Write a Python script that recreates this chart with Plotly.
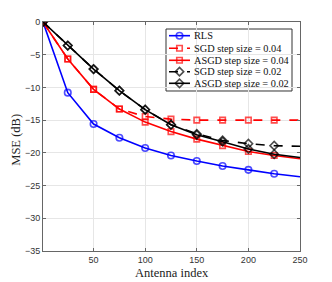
import plotly.graph_objects as go

antenna = [1, 25, 50, 75, 100, 125, 150, 175, 200, 225, 250]
rls = [0, -10.8, -15.6, -17.7, -19.25, -20.4, -21.25, -22.0, -22.6, -23.2, -23.65]
sgd_004 = [0, -5.65, -10.3, -13.3, -14.45, -14.85, -15.0, -15.0, -15.0, -15.0, -15.0]
asgd_004 = [0, -5.65, -10.3, -13.3, -15.3, -16.75, -17.9, -18.9, -19.8, -20.4, -20.9]
sgd_002 = [0, -3.6, -7.2, -10.5, -13.4, -15.7, -17.1, -18.1, -18.6, -18.9, -19.0]
asgd_002 = [0, -3.6, -7.2, -10.5, -13.4, -15.7, -17.25, -18.3, -19.4, -20.2, -20.7]

names = ["RLS", "SGD step size = 0.04", "ASGD step size = 0.04",
         "SGD step size = 0.02", "ASGD step size = 0.02"]

xticks = [50, 100, 150, 200, 250]
yticks = [0, -5, -10, -15, -20, -25, -30, -35]

msize = lambda s: [s] * (len(antenna) - 1) + [0]

fig = go.Figure()
series = [
    (rls, names[0], "#0000ff", "solid", "circle-open", 6.5),
    (sgd_004, names[1], "#ff0000", "dash", "square-open", 5.5),
    (asgd_004, names[2], "#ff0000", "solid", "square-open", 5.5),
    (sgd_002, names[3], "#000000", "dash", "diamond-open", 6.5),
    (asgd_002, names[4], "#000000", "solid", "diamond-open", 6.5),
]
for y, name, col, dash, sym, sz in series:
    fig.add_trace(go.Scatter(
        x=antenna, y=y, name=name, mode="lines+markers", showlegend=False,
        line=dict(color=col, width=1.6, dash=dash),
        marker=dict(symbol=sym, size=msize(sz), color=col,
                    line=dict(color=col, width=1.6)),
    ))

# custom compact legend (MATLAB style) drawn on an overlay unit axis
lx0, lx1, ly0, ly1 = 0.4786, 0.9689, 0.6987, 0.9694
entry_y = [0.9402, 0.8852, 0.8328, 0.7830, 0.7323]
fig.add_shape(type="rect", xref="paper", yref="paper", x0=lx0, x1=lx1, y0=ly0, y1=ly1,
              line=dict(color="#333333", width=1), fillcolor="white", layer="between")
for (y, name, col, dash, sym, sz), ey in zip(series, entry_y):
    fig.add_trace(go.Scatter(
        x=[0.4903, 0.5311, 0.5720], y=[ey, ey, ey], mode="lines+markers",
        xaxis="x2", yaxis="y2", showlegend=False, hoverinfo="skip",
        line=dict(color=col, width=1.6, dash=dash),
        marker=dict(symbol=sym, size=[0, sz, 0], color=col,
                    line=dict(color=col, width=1.6)),
    ))
    fig.add_annotation(x=0.5798, y=ey, xref="paper", yref="paper", text=name,
                       showarrow=False, xanchor="left", yanchor="middle",
                       font=dict(family="Liberation Serif", size=10.3, color="#111"))

axis_common = dict(
    showgrid=True, gridcolor="#e6e6e6", gridwidth=1,
    showline=True, linecolor="#666666", linewidth=1, mirror="allticks",
    ticks="inside", ticklen=3, tickcolor="#666666",
    tickfont=dict(family="Liberation Sans", size=9, color="#333333"),
    zeroline=False, automargin=False,
)
fig.update_xaxes(range=[1, 250], tickvals=xticks, **axis_common)
fig.update_yaxes(range=[-35, 0], tickvals=yticks, **axis_common)

fig.update_layout(
    width=332, height=282,
    margin=dict(l=43, r=32, t=22, b=31),
    paper_bgcolor="white", plot_bgcolor="white",
    showlegend=False,
    xaxis2=dict(overlaying="x", range=[0, 1], visible=False, anchor="y2"),
    yaxis2=dict(overlaying="y", range=[0, 1], visible=False, anchor="x2"),
)
fig.add_annotation(x=-0.106, y=0.485, xref="paper", yref="paper", text="MSE (dB)",
                   textangle=-90, showarrow=False, xanchor="center", yanchor="middle",
                   font=dict(family="Liberation Serif", size=12.5, color="#222"))
fig.add_annotation(x=0.5, y=-0.096, xref="paper", yref="paper", text="Antenna index",
                   showarrow=False, xanchor="center", yanchor="middle",
                   font=dict(family="Liberation Serif", size=12.5, color="#222"))

fig.write_html("out.html", config={"displayModeBar": False},
               post_script="document.body.style.margin='0';")
